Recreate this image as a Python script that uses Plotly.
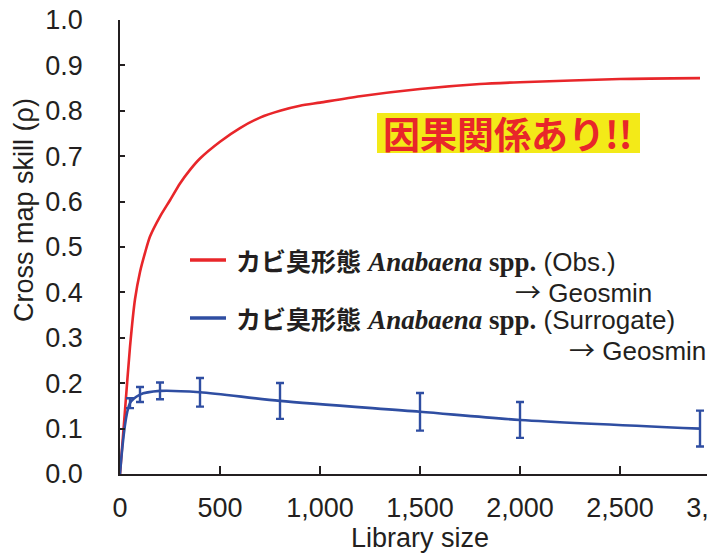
import plotly.graph_objects as go

# ---- data ----
obs_lib = [0, 25, 50, 75, 100, 125, 150, 200, 250, 300, 350, 400, 500, 600, 700, 800, 900, 1000, 1200, 1500, 1800, 2000, 2500, 2900]
obs_rho = [0, 0.14, 0.28, 0.385, 0.445, 0.487, 0.523, 0.567, 0.603, 0.64, 0.67, 0.695, 0.732, 0.762, 0.785, 0.80, 0.811, 0.818, 0.832, 0.848, 0.859, 0.863, 0.870, 0.872]

sur_lib = [0, 50, 100, 200, 400, 800, 1500, 2000, 2900]
sur_rho = [0, 0.156, 0.175, 0.183, 0.180, 0.161, 0.137, 0.119, 0.100]
sur_err = [None, 0.011, 0.0165, 0.0185, 0.0315, 0.0395, 0.0415, 0.0395, 0.0395]

x_tickvals = [0, 500, 1000, 1500, 2000, 2500, 3000]
x_ticktext = ["0", "500", "1,000", "1,500", "2,000", "2,500", "3,000"]
y_tickvals = [0, 0.1, 0.2, 0.3, 0.4, 0.5, 0.6, 0.7, 0.8, 0.9, 1.0]
y_ticktext = ["0.0", "0.1", "0.2", "0.3", "0.4", "0.5", "0.6", "0.7", "0.8", "0.9", "1.0"]

RED = "#e8262a"
BLUE = "#2f4ea2"
INK = "#231f20"
YELLOW = "#f3ea18"
SANS = "Liberation Sans, Arial, sans-serif"
JP = "Noto Sans CJK JP"

fig = go.Figure()
fig.add_trace(go.Scatter(x=obs_lib, y=obs_rho, mode="lines",
                         line=dict(color=RED, width=2.6, shape="spline", smoothing=0.7),
                         showlegend=False, hoverinfo="skip"))
fig.add_trace(go.Scatter(x=sur_lib, y=sur_rho, mode="lines",
                         line=dict(color=BLUE, width=2.6, shape="spline", smoothing=0.8),
                         showlegend=False, hoverinfo="skip"))
fig.add_trace(go.Scatter(x=sur_lib[1:], y=sur_rho[1:], mode="markers",
                         marker=dict(size=1, opacity=0),
                         error_y=dict(type="data", array=sur_err[1:], symmetric=True,
                                      color=BLUE, thickness=2.4, width=4),
                         showlegend=False, hoverinfo="skip"))

# page body has an 8px margin; figure coordinates are shifted accordingly
OFF = 8
W, H = 715, 553
L, T = 120 - OFF, 20 - OFF
B = H - (474 - OFF)
R = W - (720 - OFF)
pw, ph = W - L - R, H - T - B


def px(xw):
    return (xw - OFF - L) / pw


def py(yw):
    return (T + ph - (yw - OFF)) / ph


fig.update_layout(
    width=W, height=H,
    margin=dict(l=L, r=R, t=T, b=B, pad=0, autoexpand=False),
    paper_bgcolor="white", plot_bgcolor="white",
    font=dict(family=SANS, size=27, color=INK),
    xaxis=dict(range=[0, 3000], tickvals=x_tickvals, ticktext=x_ticktext,
               ticks="inside", ticklen=8, tickwidth=1.5, tickcolor=INK,
               showline=True, linecolor=INK, linewidth=1.8, showgrid=False, zeroline=False,
               tickfont=dict(size=27, color=INK), ticklabelstandoff=9,
               ticklabeloverflow="allow", automargin=False,
               title=dict(text="Library size", font=dict(size=27, color=INK), standoff=5)),
    yaxis=dict(range=[0, 1.0], tickvals=y_tickvals, ticktext=y_ticktext,
               ticks="inside", ticklen=5, tickwidth=1.5, tickcolor=INK,
               showline=True, linecolor=INK, linewidth=1.8, showgrid=False, zeroline=False,
               tickfont=dict(size=27, color=INK), ticklabelstandoff=30,
               ticklabeloverflow="allow", automargin=False),
)

# y-axis title
fig.add_annotation(x=px(24), y=py(210), xref="paper", yref="paper",
                   xanchor="center", yanchor="middle", textangle=-90,
                   text="Cross map skill (ρ)", showarrow=False,
                   font=dict(size=27, color=INK, family=SANS))

# causal box
fig.add_shape(type="rect", xref="paper", yref="paper",
              x0=px(377), x1=px(640), y0=py(153), y1=py(113),
              fillcolor=YELLOW, line=dict(width=0), layer="below")
fig.add_annotation(x=px(508), y=py(133), xref="paper", yref="paper",
                   xanchor="center", yanchor="middle",
                   text="<b>因果関係あり!!</b>", showarrow=False,
                   font=dict(family=JP, size=37, color=RED))

# legend
for ly, col in [(260, RED), (318, BLUE)]:
    fig.add_shape(type="line", xref="paper", yref="paper",
                  x0=px(190), x1=px(226), y0=py(ly), y1=py(ly),
                  line=dict(color=col, width=3.5))


def leg_text(tag):
    return ("<span style='font-family:Noto Sans CJK JP;font-size:25px'><b>カビ臭形態</b></span> "
            "<span style='font-family:Liberation Serif;font-size:27px'><b><i>Anabaena</i> spp.</b></span> "
            + tag)


ARROW = "<span style='font-family:Noto Sans CJK JP'>→</span> Geosmin"

fig.add_annotation(x=px(234), y=py(260), xref="paper", yref="paper",
                   text=leg_text("(Obs.)"), showarrow=False, xanchor="left", yanchor="middle",
                   font=dict(size=26, color=INK, family=SANS))
fig.add_annotation(x=px(654), y=py(290), xref="paper", yref="paper",
                   text=ARROW, showarrow=False, xanchor="right", yanchor="middle",
                   font=dict(size=26, color=INK, family=SANS))
fig.add_annotation(x=px(234), y=py(318), xref="paper", yref="paper",
                   text=leg_text("(Surrogate)"), showarrow=False, xanchor="left", yanchor="middle",
                   font=dict(size=26, color=INK, family=SANS))
fig.add_annotation(x=px(708), y=py(348), xref="paper", yref="paper",
                   text=ARROW, showarrow=False, xanchor="right", yanchor="middle",
                   font=dict(size=26, color=INK, family=SANS))

fig.write_html("out.html")
